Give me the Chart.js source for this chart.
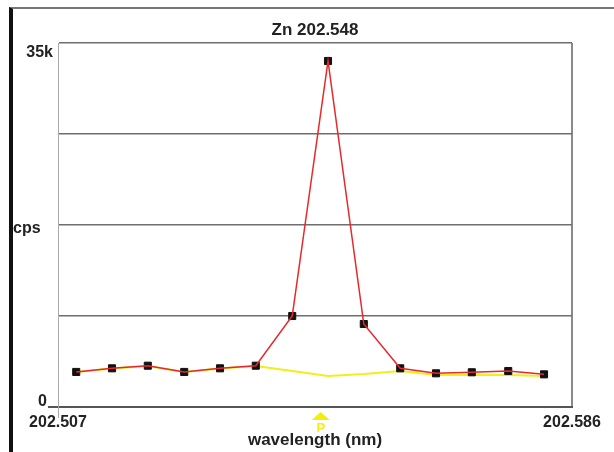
<!DOCTYPE html>
<html>
<head>
<meta charset="utf-8">
<script src="https://cdn.jsdelivr.net/npm/chart.js@4.4.1/dist/chart.umd.min.js"></script>
<style>
body { margin: 0; background: #fff; }
#wrap { position: relative; width: 614px; height: 452px; }
#frame { position: absolute; left: 9px; top: 7px; right: 0; bottom: 0; border-left: 4px solid #111; border-top: 2px solid #777; pointer-events: none; }
</style>
</head>
<body>
<div id="wrap">
  <canvas id="grafico" width="614" height="452"></canvas>
  <div id="frame"></div>
</div>
<script>
// wavelength (nm) of each scan point
var wavelengths = [202.5098, 202.5153, 202.5208, 202.5264, 202.5319, 202.5374, 202.5430,
                   202.5485, 202.5540, 202.5596, 202.5651, 202.5706, 202.5762, 202.5817];
// sample intensity (cps), red
var sampleCps = [3370, 3720, 3970, 3370, 3720, 3970, 8750, 33270, 7980, 3720, 3240, 3340, 3460, 3140];
// blank intensity (cps), yellow
var blankCps = [3370, 3700, 3940, 3370, 3700, 3940, 3460, 2980, 3170, 3460, 3080, 3080, 3080, 2980];

var xTickLabels = ['202.507', '202.586'];
var yLabelValues = [35000, 17500, 0];
var yLabelTexts = ['35k', 'cps', '0'];
var peakMarker = 202.548;

var FONT = '"Liberation Sans", Arial, sans-serif';
Chart.defaults.font.family = FONT;
Chart.defaults.color = '#222';

function pts(vals) {
    return wavelengths.map(function (w, i) { return { x: w, y: vals[i] }; });
}

var extras = {
    id: 'extras',
    afterDraw: function (chart) {
        var ctx = chart.ctx, xs = chart.scales.x, ys = chart.scales.y;
        var left = xs.left, bottom = ys.bottom;
        ctx.save();
        // little axis stubs
        ctx.strokeStyle = '#555';
        ctx.lineWidth = 2;
        ctx.beginPath(); ctx.moveTo(left - 10, bottom); ctx.lineTo(left, bottom); ctx.stroke();
        ctx.strokeStyle = '#aaa';
        ctx.lineWidth = 1;
        ctx.beginPath(); ctx.moveTo(left + 0.5, bottom); ctx.lineTo(left + 0.5, bottom + 11); ctx.stroke();

        // y labels
        ctx.font = 'bold 16px ' + FONT;
        ctx.fillStyle = '#222';
        ctx.textBaseline = 'middle';
        ctx.textAlign = 'right';
        ctx.fillText(yLabelTexts[0], left - 5, ys.getPixelForValue(yLabelValues[0]) + 10);
        ctx.textAlign = 'left';
        ctx.fillText(yLabelTexts[1], 13, ys.getPixelForValue(yLabelValues[1]) + 4);
        ctx.textAlign = 'right';
        ctx.fillText(yLabelTexts[2], left - 11, ys.getPixelForValue(yLabelValues[2]) - 5);

        // peak position marker
        var px = xs.getPixelForValue(peakMarker) - 4;
        ctx.fillStyle = '#f4ee10';
        ctx.beginPath();
        ctx.moveTo(px, bottom + 5);
        ctx.lineTo(px + 9, bottom + 13);
        ctx.lineTo(px - 9, bottom + 13);
        ctx.closePath();
        ctx.fill();
        ctx.font = 'bold 13px ' + FONT;
        ctx.textAlign = 'center';
        ctx.fillText('P', px, bottom + 21);
        ctx.restore();
    }
};

new Chart(document.getElementById('grafico'), {
    type: 'line',
    data: {
        datasets: [
            {
                label: 'sample',
                data: pts(sampleCps),
                borderColor: '#e8282c',
                borderWidth: 1.5,
                pointRadius: 0,
                fill: false,
                order: 1
            },
            {
                label: 'markers',
                data: pts(sampleCps),
                showLine: false,
                pointStyle: 'rect',
                pointRadius: 5,
                pointBackgroundColor: '#111',
                pointBorderColor: '#111',
                pointBorderWidth: 1,
                order: 2
            },
            {
                label: 'blank',
                data: pts(blankCps),
                borderColor: '#f2ee1a',
                borderWidth: 2,
                pointRadius: 0,
                fill: false,
                order: 3
            }
        ]
    },
    options: {
        responsive: false,
        devicePixelRatio: 1,
        animation: false,
        layout: { padding: { left: 0, right: 42, top: 0, bottom: 0 } },
        plugins: {
            legend: { display: false },
            tooltip: { enabled: false },
            title: {
                display: true,
                text: 'Zn 202.548',
                fullSize: false,
                color: '#222',
                font: { size: 17, weight: 'bold' },
                padding: { top: 20, bottom: 2.6 }
            }
        },
        scales: {
            x: {
                type: 'linear',
                min: 202.507,
                max: 202.586,
                afterBuildTicks: function (s) { s.ticks = [{ value: s.min }, { value: s.max }]; },
                afterFit: function (s) { s.height = 45; },
                ticks: {
                    maxRotation: 0,
                    autoSkip: false,
                    padding: 6,
                    color: '#222',
                    font: { size: 16, weight: 'bold' },
                    callback: function (v, i) { return xTickLabels[i]; }
                },
                grid: {
                    drawTicks: false,
                    lineWidth: 2,
                    color: function (c) { return c.index === 1 ? '#8a8a8a' : 'rgba(0,0,0,0)'; }
                },
                border: { display: true, color: '#555', width: 2 },
                title: {
                    display: true,
                    text: 'wavelength (nm)',
                    color: '#222',
                    font: { size: 17, weight: 'bold' },
                    padding: { top: 0, bottom: 1.8 }
                }
            },
            y: {
                min: 0,
                max: 35000,
                afterFit: function (s) { s.width = 58; },
                ticks: { display: false, stepSize: 8750 },
                grid: { drawTicks: false, color: '#6e6e6e', lineWidth: 1.5 },
                border: { display: true, color: '#aaa', width: 1 }
            }
        }
    },
    plugins: [extras]
});
</script>
</body>
</html>
